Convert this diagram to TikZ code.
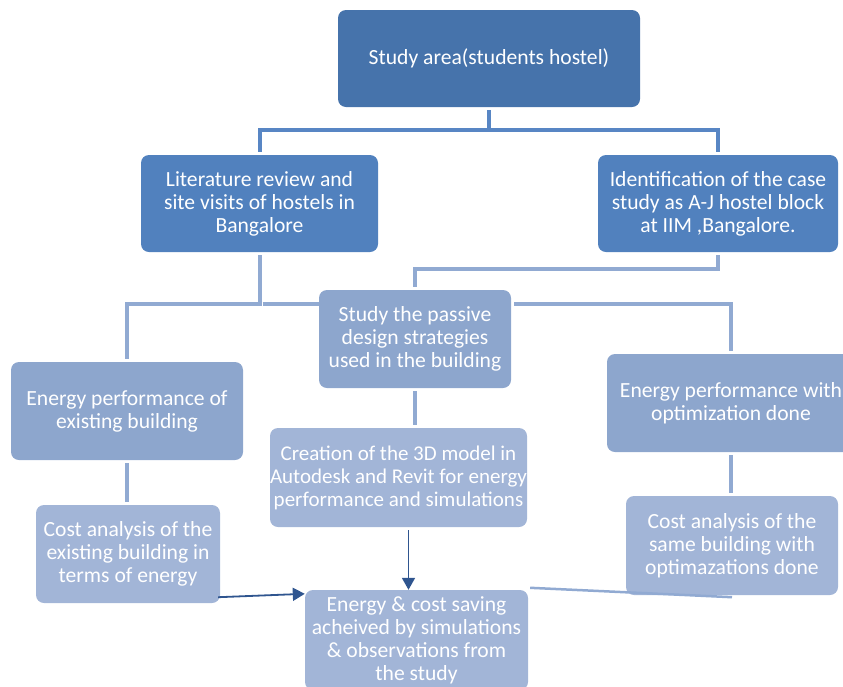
\documentclass[tikz,border=0pt]{standalone}
\usepackage{fontspec}
\setmainfont{Carlito}
\usetikzlibrary{arrows.meta,calc}

\definecolor{darkbox}{RGB}{70,115,171}
\definecolor{bluebox}{RGB}{81,129,190}
\definecolor{midbox}{RGB}{141,166,205}
\definecolor{lightbox}{RGB}{162,181,215}
\definecolor{topline}{RGB}{88,134,196}
\definecolor{midline}{RGB}{145,170,210}
\definecolor{arrowcol}{RGB}{47,85,143}

\tikzset{
  box/.style={rounded corners=8pt,text=white,align=center,inner sep=0pt,
    font=\fontsize{21.6}{23}\selectfont},
  toplink/.style={draw=topline,line width=4pt,shorten <=3pt,shorten >=3pt},
  midlink/.style={draw=midline,line width=4pt,shorten <=3pt,shorten >=3pt},
  arrowlink/.style={draw=arrowcol,line width=1.8pt,-{Triangle[length=12pt,width=13pt]}}
}

\begin{document}
\begin{tikzpicture}[x=1pt,y=-1pt]

      \useasboundingbox (0,0) rectangle (843,686);

      \node[box,fill=darkbox,minimum width=302pt,minimum height=97pt] (study) at (489,58.5) {Study area(students hostel)};
      \node[box,fill=bluebox,minimum width=237pt,minimum height=97pt] (lit) at (259.5,203.5) {Literature review and\\site visits of hostels in\\Bangalore};
      \node[box,fill=bluebox,minimum width=240pt,minimum height=97pt] (ident) at (718,203.5) {Identification of the case\\study as A-J hostel block\\at IIM ,Bangalore.};

      \node[box,fill=midbox,minimum width=192pt,minimum height=98pt] (passive) at (415,339) {Study the passive\\design strategies\\used in the building};
      \node[box,fill=midbox,minimum width=232pt,minimum height=98pt] (enexist) at (127,411) {Energy performance of\\existing building};
      \node[box,fill=midbox,minimum width=248pt,minimum height=98pt] (enopt) at (731,403) {Energy performance with\\optimization done};

      \node[box,fill=lightbox,minimum width=257pt,minimum height=99pt,font=\fontsize{21}{23}\selectfont] (model) at (398.5,477.5) {Creation of the 3D model in\\Autodesk and Revit for energy\\performance and simulations};
      \node[box,fill=lightbox,minimum width=184pt,minimum height=98pt] (costexist) at (128,554) {Cost analysis of the\\existing building in\\terms of energy};
      \node[box,fill=lightbox,minimum width=212pt,minimum height=99pt] (costopt) at (732,545.5) {Cost analysis of the\\same building with\\optimazations done};
      \node[box,fill=lightbox,minimum width=223pt,minimum height=100pt] (saving) at (416.5,640) {Energy \& cost saving\\acheived by simulations\\\& observations from\\the study};

      \draw[toplink] (study.south) -- ++(0,23) -| (lit.north); % study-lit
      \draw[toplink] (study.south) -- ++(0,23) -| (ident.north); % study-ident

      \draw[midlink] (lit.south) -- ++(0,52) coordinate (litjoin) -| (enexist.north); % lit-enexist
      \draw[midlink,shorten >=0pt] (litjoin) -- (litjoin -| passive.west); % lit-passive
      \draw[midlink] (ident.south) -- ++(0,17) -| (passive.north); % ident-passive
      \draw[midlink] (passive.east |- litjoin) -| (enopt.north); % passive-enopt

      \draw[midlink] (passive.south) -- (passive.south |- model.north);
      \draw[midlink] (enexist.south) -- (enexist.south |- costexist.north);
      \draw[midlink] (enopt.south) -- (enopt.south |- costopt.north);

      \draw[arrowlink] ([xshift=10pt,yshift=-3pt]model.south) -- ([xshift=10pt]model.south |- saving.north); % model-saving
      \draw[arrowlink] ([xshift=-2pt,yshift=6pt]costexist.south east) -- ([yshift=-4pt]saving.north west); % cost-saving
      \draw[draw=midline,line width=2.5pt] ([xshift=2pt,yshift=2pt]saving.north east) -- ([yshift=-2pt]costopt.south); % costopt-saving

\end{tikzpicture}
\end{document}
